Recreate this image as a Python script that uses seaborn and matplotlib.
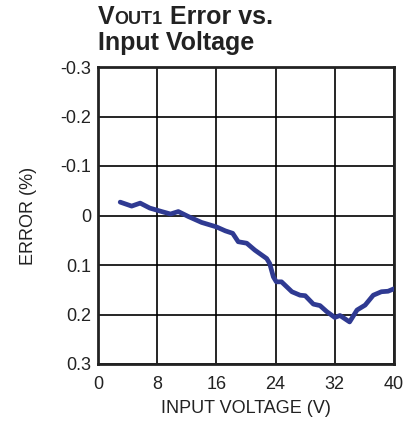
import numpy as np
import pandas as pd
import matplotlib
matplotlib.use("Agg")
import matplotlib.pyplot as plt
import seaborn as sns

# Data
voltage = [3.0, 4.55, 5.7, 7.0, 8.6, 9.8, 10.85, 12.2, 14.0, 16.0, 17.2, 18.2, 18.95,
           20.1, 21.2, 22.8, 23.2, 23.7, 24.1, 24.8, 26.2, 27.3, 28.0, 29.1, 30.0,
           30.9, 32.0, 32.7, 34.0, 35.0, 36.1, 37.2, 38.3, 39.2, 40.0]
error = [-0.027, -0.019, -0.025, -0.015, -0.008, -0.003, -0.008, 0.002, 0.014, 0.023,
         0.031, 0.036, 0.053, 0.056, 0.070, 0.087, 0.097, 0.124, 0.134, 0.134, 0.154,
         0.161, 0.162, 0.179, 0.182, 0.194, 0.206, 0.202, 0.215, 0.191, 0.181, 0.161,
         0.154, 0.153, 0.148]
x_ticks = [0, 8, 16, 24, 32, 40]
y_ticks = [-0.3, -0.2, -0.1, 0.0, 0.1, 0.2, 0.3]
y_tick_labels = ["-0.3", "-0.2", "-0.1", "0", "0.1", "0.2", "0.3"]

df = pd.DataFrame({"voltage": voltage, "error": error})

sns.set_style("white")
plt.rcParams["font.family"] = ["Liberation Sans", "DejaVu Sans"]

W, H = 413, 421
fig = plt.figure(figsize=(W / 100, H / 100), dpi=100)
ax = fig.add_axes([98 / W, 1 - 364 / H, 296 / W, 297 / H])

sns.lineplot(data=df, x="voltage", y="error", ax=ax, color="#2f3a92",
             linewidth=3.4, solid_capstyle="round", solid_joinstyle="round", zorder=3)

ax.set_xlim(0, 40)
ax.set_ylim(0.3, -0.3)
ax.set_xticks(x_ticks)
ax.set_xticklabels([str(t) for t in x_ticks])
ax.set_yticks(y_ticks)
ax.set_yticklabels(y_tick_labels)
ax.grid(True, color="black", linewidth=1.2)
ax.set_axisbelow(True)
for s in ax.spines.values():
    s.set_visible(True)
    s.set_color("#222222")
    s.set_linewidth(2.0)
ax.tick_params(axis="x", length=0, labelsize=13, colors="#222222", pad=8.5)
ax.tick_params(axis="y", length=0, labelsize=13, colors="#222222", pad=5)
ax.set_xlabel("INPUT VOLTAGE (V)", fontsize=13, color="#222222", labelpad=5)
ax.set_ylabel("ERROR (%)", fontsize=13, color="#222222", labelpad=17)

# Title with small caps "OUT1"
renderer = fig.canvas.get_renderer()
tx = 98 / W
ty = 1 - 24 / H
t1 = fig.text(tx, ty, "V", fontsize=18, fontweight="bold", color="#222222", va="baseline", ha="left")
bb = t1.get_window_extent(renderer)
t2 = fig.text(bb.x1 / W, ty, "OUT1", fontsize=13, fontweight="bold", color="#222222", va="baseline", ha="left")
bb2 = t2.get_window_extent(renderer)
fig.text(bb2.x1 / W, ty, " Error vs.", fontsize=18, fontweight="bold", color="#222222", va="baseline", ha="left")
fig.text(tx, 1 - 50 / H, "Input Voltage", fontsize=18, fontweight="bold", color="#222222", va="baseline", ha="left")

fig.savefig("out.png", dpi=100)
